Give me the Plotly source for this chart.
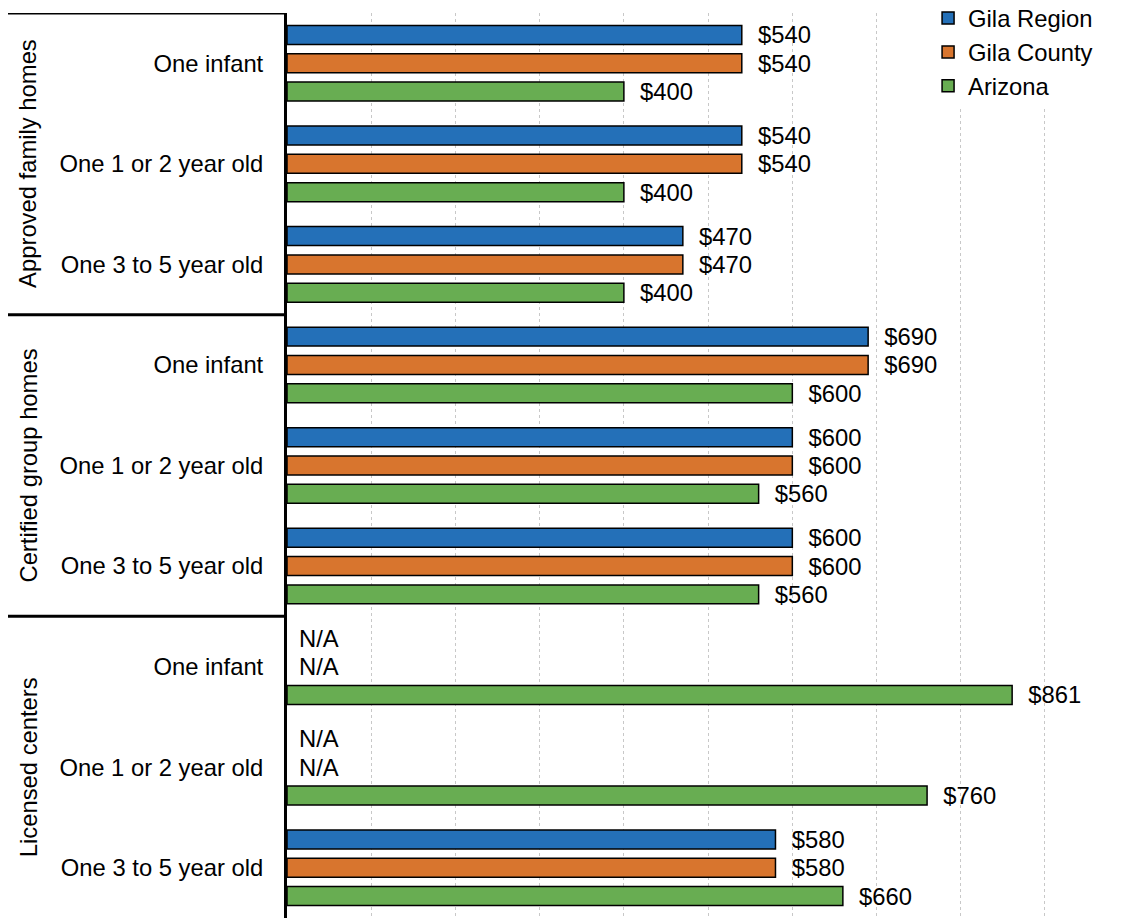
import plotly.graph_objects as go

# ---- data ----
groups = ["Approved family homes", "Certified group homes", "Licensed centers"]
sub_categories = ["One infant", "One 1 or 2 year old", "One 3 to 5 year old"]
series_names = ["Gila Region", "Gila County", "Arizona"]
gila_region = [540, 540, 470, 690, 600, 600, None, None, 580]
gila_county = [540, 540, 470, 690, 600, 600, None, None, 580]
arizona = [400, 400, 400, 600, 560, 560, 861, 760, 660]

colors = ["#2470B8", "#D8752E", "#68AD52"]
FONT = "Liberation Sans, Arial, sans-serif"
FS = 23.8
BARGAP = 0.155

tick_labels = [s for _ in groups for s in sub_categories]
ypos = list(range(len(tick_labels)))

fig = go.Figure()
all_series = [gila_region, gila_county, arizona]
for name, vals, col in zip(series_names, all_series, colors):
    fig.add_trace(go.Bar(
        name=name, orientation="h", y=ypos, x=vals,
        marker=dict(color=col, line=dict(color="black", width=1.5)),
        text=[("\u00a0\u00a0$%d" % v) if v is not None else "" for v in vals],
        textposition="outside", constraintext="none", cliponaxis=False,
        textfont=dict(family=FONT, size=FS, color="black"),
        hoverinfo="skip",
    ))

# N/A labels for missing values
slot = (1 - BARGAP) / len(all_series)
for si, vals in enumerate(all_series):
    for ci, v in enumerate(vals):
        if v is None:
            fig.add_annotation(
                x=0, y=ci + (si - 1) * slot, xref="x", yref="y",
                text="N/A", showarrow=False, xanchor="left", xshift=10,
                font=dict(family=FONT, size=FS, color="black"))

# group labels and separators
n = len(sub_categories)
for gi, g in enumerate(groups):
    fig.add_annotation(
        x=-0.309, y=gi * n + (n - 1) / 2, xref="paper", yref="y",
        xanchor="center", yanchor="middle",
        text=g, textangle=-90, showarrow=False,
        font=dict(family=FONT, size=FS, color="black"))
for k in range(len(groups)):
    fig.add_shape(type="line", xref="paper", yref="y",
                  x0=-0.333, x1=0, y0=k * n - 0.5, y1=k * n - 0.5,
                  line=dict(color="black", width=3))

# page body adds an 8px margin, so the figure is drawn 8px smaller/offset
fig.update_layout(
    width=1117, height=910,
    margin=dict(l=279, r=0, t=5, b=0, autoexpand=False),
    barmode="group", bargap=BARGAP, bargroupgap=0.33,
    plot_bgcolor="white", paper_bgcolor="white",
    font=dict(family=FONT, size=FS, color="black"),
    showlegend=True,
    legend=dict(x=0.765, y=1.0188, xref="paper", yref="paper",
                xanchor="left", yanchor="top",
                traceorder="normal", bgcolor="rgba(255,255,255,1)",
                font=dict(family=FONT, size=FS, color="black"),
                itemwidth=30, tracegroupgap=0),
)
fig.update_xaxes(range=[0, 995], showticklabels=False, ticks="",
                 showgrid=True, gridcolor="#C8C8C8", griddash="dot", gridwidth=1,
                 dtick=100, zeroline=False, showline=False, automargin=False)
fig.update_yaxes(tickvals=ypos, ticktext=tick_labels, range=[8.5, -0.5],
                 showline=True, linecolor="black", linewidth=3, automargin=False,
                 ticks="", ticklabelstandoff=16, showgrid=False, zeroline=False,
                 tickfont=dict(family=FONT, size=FS, color="black"))

fig.write_html("out.html")
